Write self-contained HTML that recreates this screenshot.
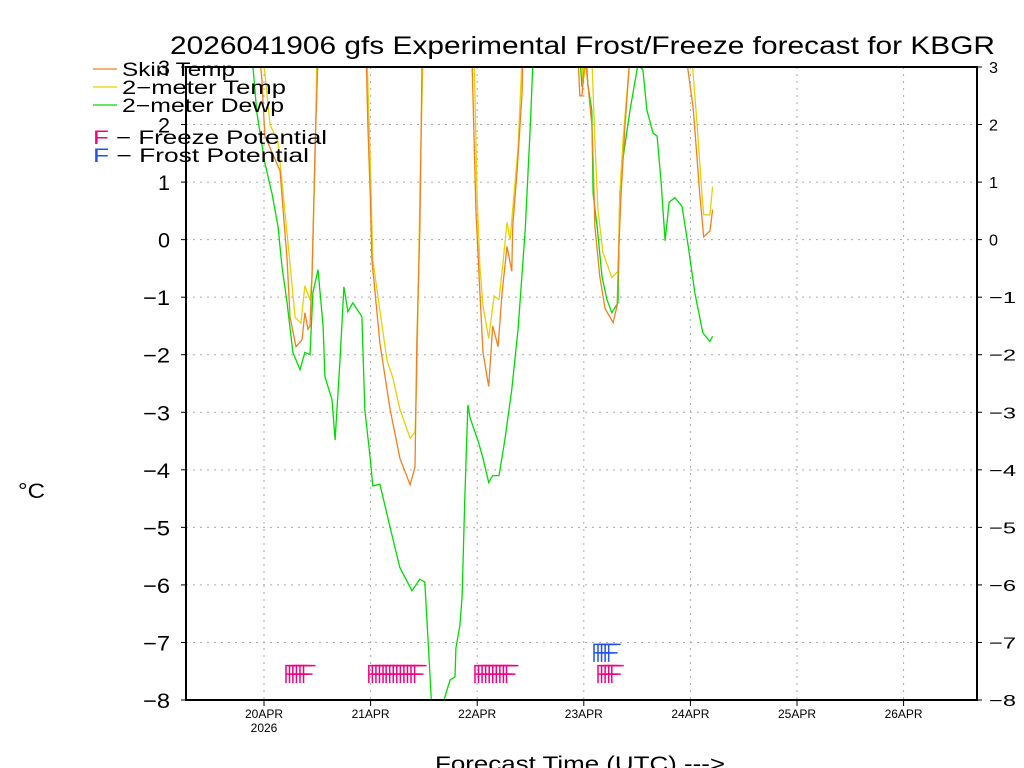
<!DOCTYPE html>
<html><head><meta charset="utf-8"><style>
html,body{margin:0;padding:0;background:#fff;width:1024px;height:768px;overflow:hidden}
svg{display:block;font-family:"Liberation Sans",sans-serif}
</style></head><body>
<svg id="chart" width="1024" height="768" viewBox="0 0 1024 768">
<defs><clipPath id="plotclip"><rect x="186" y="67" width="791" height="633"/></clipPath></defs>
<text x="170" y="54" font-size="25" fill="#000" textLength="825" lengthAdjust="spacingAndGlyphs">2026041906 gfs Experimental Frost/Freeze forecast for KBGR</text>
<g id="grid"></g>
<g id="series" clip-path="url(#plotclip)"></g>
<g id="markers"></g>
<g id="axes"></g>
<g font-size="19">
<line x1="93" y1="69" x2="117" y2="69" stroke="#f08020" stroke-width="1.2"/>
<text x="122" y="76" textLength="113" lengthAdjust="spacingAndGlyphs">Skin Temp</text>
<line x1="93" y1="87" x2="117" y2="87" stroke="#e6d200" stroke-width="1.2"/>
<text x="122" y="94" textLength="164" lengthAdjust="spacingAndGlyphs">2−meter Temp</text>
<line x1="93" y1="105" x2="117" y2="105" stroke="#00dc00" stroke-width="1.2"/>
<text x="122" y="112" textLength="162" lengthAdjust="spacingAndGlyphs">2−meter Dewp</text>
<text x="93" y="144" textLength="234" lengthAdjust="spacingAndGlyphs"><tspan fill="#f00080">F</tspan> − Freeze Potential</text>
<text x="93" y="162" textLength="216" lengthAdjust="spacingAndGlyphs"><tspan fill="#2050f0">F</tspan> − Frost Potential</text>
</g>
<text x="18" y="498" font-size="21" textLength="27" lengthAdjust="spacingAndGlyphs">°C</text>
<text x="435" y="771" font-size="21" textLength="290" lengthAdjust="spacingAndGlyphs">Forecast Time (UTC) ---&gt;</text>
</svg>
<script>
const skinT=[16,17.5,18.2,21.6,23.2,23.85,25.2,26.55,27.2,27.9,28.35,28.8,29.5,30.15,36,41,41.4,41.9,42.3,44.1,46.4,48.6,50.9,52,52.4,53.1,53.6,59,64.8,65.7,66.6,67.3,68.6,69.5,70.7,71.6,72.7,73.8,74,75,76.1,76.3,82,88.7,89.1,89.6,90.3,91.8,92.1,92.5,93.6,94.8,96.6,97.5,97.9,98.4,99.3,100.4,107,113,114.6,115.5,116.1,117,118.4,119];
const skinV=[4,2.8,1.8,1.2,-0.35,-1.34,-1.86,-1.74,-1.27,-1.56,-1.5,-0.64,1.6,3.2,6,3.2,1.97,0.8,-0.35,-1.8,-2.95,-3.8,-4.26,-3.95,-1.8,0.23,3.2,6,3.2,0.52,-0.92,-1.96,-2.55,-1.5,-1.86,-0.92,-0.12,-0.55,0.23,1.22,2.55,3.2,6,3.2,2.5,2.5,3.2,2.0,1.4,0.23,-0.64,-1.2,-1.44,-1.15,-0.1,0.8,2,3.2,6,3.2,2.3,1.4,0.8,0.05,0.15,0.52];
const t2mT=[16,17.8,19.35,21.15,23.2,25,26.3,27.2,28.35,28.8,29.5,29.9,36,41.2,41.9,42.5,45.7,47,48.6,50.9,52,52.4,53.1,53.8,59,65.3,65.95,66.6,67.3,68.6,69.8,70.9,71.8,72.7,73.4,74,75.2,76.1,82,89.6,89.8,90.7,91.8,92.5,93.2,94.3,96.3,97.7,98.1,98.8,100.4,107,114.3,115.5,116.6,117,118.4,119];
const t2mV=[5,3.2,2.0,1.7,0.1,-1.35,-1.45,-0.8,-1.05,-0.64,1.4,3.2,6,3.2,1.4,-0.35,-2.1,-2.4,-2.95,-3.45,-3.35,-2.4,0.8,3.2,6,3.2,0.8,-0.47,-1.15,-1.72,-0.98,-1.04,-0.4,0.3,0,0.52,1.6,3.2,6,3.2,2.7,3.2,3.2,1.7,0.52,-0.22,-0.66,-0.55,0.8,1.7,3.2,6,3.2,2,0.8,0.43,0.43,0.92];
const dewT=[15.3,16.4,18.2,19.8,21.15,22.05,23.2,24.5,26.1,27.2,28.35,29,30.15,31.3,31.7,33.3,34,35.1,36,36.9,38,40.05,40.7,41.9,42.5,44.1,46.4,48.6,51.3,53.1,54.2,55.4,55.8,56.9,58.3,59.9,61,61.2,62.1,62.6,63.2,63.9,64.4,66.2,67.3,68.6,69.5,70.9,72.2,73.8,75.2,76.8,77.9,78.6,84,89.1,89.6,90.5,90.9,91.8,92.1,93,94.1,95.2,96.3,97.7,98.1,98.8,100.4,102.2,103.3,104.2,105.6,106.5,107.4,108.3,109.2,110.5,112.1,113.4,115,116.8,118.4,119];
const dewV=[3.2,2.2,1.33,0.8,0.23,-0.47,-1.1,-1.96,-2.26,-1.96,-2.0,-0.92,-0.52,-1.5,-2.38,-2.78,-3.48,-2.09,-0.82,-1.25,-1.1,-1.34,-2.95,-3.8,-4.28,-4.25,-5.0,-5.7,-6.1,-5.9,-5.95,-7.6,-8.2,-8.6,-8.05,-7.65,-7.6,-7.1,-6.7,-6.2,-4.5,-2.87,-3.1,-3.5,-3.8,-4.22,-4.1,-4.1,-3.5,-2.6,-1.55,0.17,1.9,3.2,6,3.2,2.65,3.2,2.7,2.25,0.8,0.23,-0.64,-1.04,-1.27,-1.1,0.8,1.4,2.25,3.05,2.95,2.25,1.85,1.8,1.0,-0.02,0.65,0.73,0.58,-0.05,-0.92,-1.62,-1.77,-1.68];
const freezeHours=[22.95,23.74,24.5,25.3,26.1,26.9,41.6,42.4,43.2,44,44.8,45.5,46.3,47.1,47.9,48.7,49.5,50.3,51.1,51.9,65.5,66.3,67.1,67.9,68.7,69.5,70.3,71.1,71.9,72.6,93.2,94,94.8,95.6,96.3];
const frostHours=[92.3,93.2,94,94.8,95.6];
const dayLabels=["20APR","21APR","22APR","23APR","24APR","25APR","26APR"];
const yTicks=[-8,-7,-6,-5,-4,-3,-2,-1,0,1,2,3];
const freezeLevel=-7.55, frostLevel=-7.18;

const NS="http://www.w3.org/2000/svg";
const X0=186,X1=977,Y0=67,Y1=700;
const pxPerHour=106.6/24;
function xs(h){return 264+(h-18)*pxPerHour;}
function ys(v){return Y1-(v+8)/11*(Y1-Y0);}
function mk(tag,attrs,parent){const e=document.createElementNS(NS,tag);for(const k in attrs)e.setAttribute(k,attrs[k]);parent.appendChild(e);return e;}
const grid=document.getElementById('grid'),axes=document.getElementById('axes'),ser=document.getElementById('series'),mkg=document.getElementById('markers');
yTicks.forEach(v=>{
  const y=ys(v);
  if(v>-8&&v<3){const g=mk('line',{x1:X0,x2:X1,y1:y,y2:y,stroke:'#aaa','stroke-width':1,'stroke-dasharray':'2,5'},grid);
  
  }
  const neg=v<0;
  const t=mk('text',{x:170,y:y+8,'text-anchor':'end','font-size':21,textLength:neg?27:12,lengthAdjust:'spacingAndGlyphs'},axes);t.textContent=String(v).replace('-','−');
  
  
  const t2=mk('text',{x:neg?989:989,y:y+6,'font-size':16,textLength:neg?27:9,lengthAdjust:'spacingAndGlyphs'},axes);t2.textContent=String(v).replace('-','−');
  
  
  const tk=mk('line',{x1:X0-5,x2:X0,y1:y,y2:y,stroke:'#000'},axes);
  
  
  const tk2=mk('line',{x1:X1,x2:X1+5,y1:y,y2:y,stroke:'#000'},axes);
  
  
});
dayLabels.forEach((d,i)=>{
  const x=xs(18+24*i);
  const g=mk('line',{x1:x,x2:x,y1:Y0,y2:Y1,stroke:'#aaa','stroke-width':1,'stroke-dasharray':'2,5'},grid);
  
  
  const tk=mk('line',{x1:x,x2:x,y1:Y1,y2:Y1+6,stroke:'#000'},axes);
  
  
  const t=mk('text',{x:x,y:718,'text-anchor':'middle','font-size':12},axes);t.textContent=d;
  
  
});
const yr=mk('text',{x:xs(18),y:732,'text-anchor':'middle','font-size':12},axes);yr.textContent='2026';


const frame=mk('rect',{x:X0,y:Y0,width:X1-X0,height:Y1-Y0,fill:'none',stroke:'#000','stroke-width':2},axes);


function line(T,V,color,name){
  const d=T.map((t,i)=>(i?'L':'M')+xs(t).toFixed(1)+','+ys(V[i]).toFixed(1)).join('');
  const p=mk('path',{d:d,fill:'none',stroke:color,'stroke-width':1.3},ser);
  
  
}
line(dewT,dewV,'#00dc00','dewpoint-line');
line(t2mT,t2mV,'#e6d200','temp-2m-line');
line(skinT,skinV,'#f08020','skin-temp-line');
function fmark(h,level,color,name){
  const x=xs(h),yt=ys(level)-8.5,ym=yt+8.5,yb=yt+17.5;
  const p=mk('path',{d:`M${x},${yb}V${yt}h12M${x},${ym}h9`,fill:'none',stroke:color,'stroke-width':1.5},mkg);
  
  
}
freezeHours.forEach(h=>fmark(h,freezeLevel,'#f00080','freeze-marker'));
frostHours.forEach(h=>fmark(h,frostLevel,'#2050f0','frost-marker'));
</script>
</body></html>
